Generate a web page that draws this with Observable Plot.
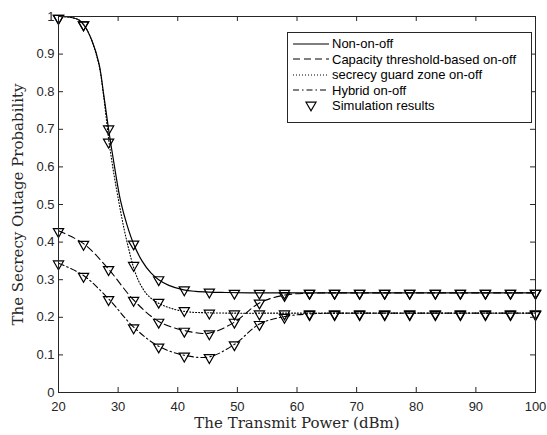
<!DOCTYPE html>
<html>
<head>
<meta charset="utf-8">
<script src="https://cdn.jsdelivr.net/npm/d3@7"></script>
<script src="https://cdn.jsdelivr.net/npm/@observablehq/plot@0.6"></script>
<style>
  html, body { margin: 0; padding: 0; background: #fff; }
  #wrap { position: relative; width: 547px; height: 435px; }
  #legend {
    position: absolute; left: 287px; top: 32px; width: 245px; height: 91px;
    box-sizing: border-box; border: 1px solid #262626; background: #fff;
    font-family: "Liberation Sans", Arial, sans-serif; font-size: 13px; color: #000;
    padding-top: 3px;
  }
  .row { display: flex; align-items: center; height: 15.5px; }
  .row svg { margin-left: 5px; margin-right: 3px; flex: none; }
</style>
</head>
<body>
<div id="wrap"></div>
<script>
// ---- data ----
const xLabel = "The Transmit Power (dBm)";
const yLabel = "The Secrecy Outage Probability";
const xTicks = [20, 30, 40, 50, 60, 70, 80, 90, 100];
const xTickLabels = ["20", "30", "40", "50", "60", "70", "80", "90", "100"];
const yTicks = [0, 0.1, 0.2, 0.3, 0.4, 0.5, 0.6, 0.7, 0.8, 0.9, 1];
const yTickLabels = ["0", "0.1", "0.2", "0.3", "0.4", "0.5", "0.6", "0.7", "0.8", "0.9", "1"];

const seriesNames = ["Non-on-off", "Capacity threshold-based on-off", "secrecy guard zone on-off", "Hybrid on-off"];
const simName = "Simulation results";

// analytical curves
const nonOnOffX = [20, 22, 23.5, 24.5, 25.6, 26.8, 27.6, 28.4, 29.4, 30.4, 31.5, 32.6, 34, 35.5, 36.8, 38.5, 41, 43, 45.3, 48, 52, 60, 100];
const nonOnOffY = [1.0, 0.998, 0.99, 0.972, 0.936, 0.874, 0.79, 0.70, 0.60, 0.51, 0.445, 0.395, 0.35, 0.318, 0.30, 0.285, 0.273, 0.269, 0.267, 0.266, 0.265, 0.265, 0.265];

const guardX = [20, 22, 23.5, 24.5, 25.6, 26.8, 27.6, 28.4, 29.3, 30.2, 31, 31.8, 32.6, 33.4, 34.2, 35, 36, 37.2, 38.5, 40, 42, 45, 50, 55, 100];
const guardY = [1.0, 0.998, 0.99, 0.972, 0.935, 0.87, 0.785, 0.675, 0.58, 0.50, 0.435, 0.38, 0.332, 0.298, 0.275, 0.258, 0.245, 0.234, 0.226, 0.219, 0.214, 0.212, 0.211, 0.211, 0.211];

const gridX = [20, 24.2, 28.4, 32.6, 36.8, 41.1, 45.3, 49.5, 53.7, 57.9, 62.1, 66.3, 70.5, 74.7, 78.9, 83.2, 87.4, 91.6, 95.8, 100];
const capacityY = [0.43, 0.396, 0.328, 0.246, 0.189, 0.165, 0.158, 0.187, 0.238, 0.259, 0.264, 0.265, 0.265, 0.265, 0.265, 0.265, 0.265, 0.265, 0.265, 0.265];
const hybridY = [0.344, 0.311, 0.249, 0.174, 0.123, 0.099, 0.095, 0.128, 0.182, 0.202, 0.209, 0.211, 0.211, 0.211, 0.211, 0.211, 0.211, 0.211, 0.211, 0.211];

// simulation points
const simX = [20, 24.2, 28.4, 32.6, 36.8, 41.1, 45.3, 49.5, 53.7, 57.9, 62.1, 66.3, 70.5, 74.7, 78.9, 83.2, 87.4, 91.6, 95.8, 100];
const simNonOnOff = [0.995, 0.978, 0.701, 0.395, 0.300, 0.273, 0.267, 0.264, 0.264, 0.264, 0.264, 0.264, 0.264, 0.264, 0.264, 0.264, 0.264, 0.264, 0.264, 0.264];
const simCapacity = [0.428, 0.394, 0.327, 0.245, 0.187, 0.163, 0.156, 0.187, 0.238, 0.258, 0.264, 0.264, 0.264, 0.264, 0.264, 0.264, 0.264, 0.264, 0.264, 0.264];
const simGuard = [0.995, 0.978, 0.666, 0.338, 0.240, 0.218, 0.211, 0.209, 0.209, 0.209, 0.209, 0.209, 0.209, 0.209, 0.209, 0.209, 0.209, 0.209, 0.209, 0.209];
const simHybrid = [0.342, 0.309, 0.247, 0.172, 0.121, 0.097, 0.093, 0.127, 0.181, 0.200, 0.207, 0.207, 0.207, 0.207, 0.207, 0.207, 0.207, 0.207, 0.207, 0.207];

// ---- build ----
const W = 547, H = 435;
const mL = 58, mR = 12, mT = 16, mB = 43;
const plotW = W - mL - mR, plotH = H - mT - mB;
const tick = 5;
const axisColor = "#262626";

const styles = [
  {strokeDasharray: null, strokeWidth: 1.2},
  {strokeDasharray: "7,4", strokeWidth: 1.1},
  {strokeDasharray: "1,2", strokeWidth: 1.1},
  {strokeDasharray: "6,3,1.5,3", strokeWidth: 1.1}
];

const toPts = (xs, ys) => xs.map((x, i) => ({x, y: ys[i]}));
const lineSets = [
  toPts(nonOnOffX, nonOnOffY),
  toPts(gridX, capacityY),
  toPts(guardX, guardY),
  toPts(gridX, hybridY)
];
const simSets = [simNonOnOff, simCapacity, simGuard, simHybrid].map(ys => toPts(simX, ys));

const triDown = {
  draw(context, size) {
    const y = Math.sqrt(size / (3 * Math.sqrt(3)));
    const s = Math.sqrt(3) * y;
    context.moveTo(0, 2 * y);
    context.lineTo(s, -y);
    context.lineTo(-s, -y);
    context.closePath();
  }
};

const marks = [];
lineSets.forEach((pts, i) => {
  marks.push(Plot.line(pts, {x: "x", y: "y", stroke: "black", curve: "catmull-rom",
    strokeWidth: styles[i].strokeWidth, strokeDasharray: styles[i].strokeDasharray}));
});
simSets.forEach(pts => {
  marks.push(Plot.dot(pts, {x: "x", y: "y", symbol: triDown, r: 3.8, stroke: "black", fill: "none", strokeWidth: 1.2}));
});
// box & inward ticks (MATLAB style)
marks.push(Plot.frame({stroke: axisColor, strokeWidth: 1}));
marks.push(Plot.tickX(xTicks, {x: d => d, stroke: axisColor, insetTop: plotH - tick}));
marks.push(Plot.tickX(xTicks, {x: d => d, stroke: axisColor, insetBottom: plotH - tick}));
marks.push(Plot.tickY(yTicks, {y: d => d, stroke: axisColor, insetRight: plotW - tick}));
marks.push(Plot.tickY(yTicks, {y: d => d, stroke: axisColor, insetLeft: plotW - tick}));
marks.push(Plot.axisX(xTicks, {tickSize: 0, tickPadding: 9, fontSize: 13, fill: axisColor,
  tickFormat: d => xTickLabels[xTicks.indexOf(d)], label: null}));
marks.push(Plot.axisY(yTicks, {tickSize: 0, tickPadding: 4, fontSize: 13, fill: axisColor,
  tickFormat: d => yTickLabels[yTicks.indexOf(d)], label: null}));
marks.push(Plot.text([xLabel], {text: d => d, frameAnchor: "bottom", dy: 35, fontSize: 15,
  fontFamily: "DejaVu Serif", fill: axisColor}));
marks.push(Plot.text([yLabel], {text: d => d, frameAnchor: "left", textAnchor: "middle", dx: -40, rotate: -90, fontSize: 15,
  fontFamily: "DejaVu Serif", fill: axisColor}));

const chart = Plot.plot({
  width: W, height: H,
  marginLeft: mL, marginRight: mR, marginTop: mT, marginBottom: mB,
  style: {fontFamily: "'Liberation Sans', Arial, sans-serif", fontSize: "13px", background: "#fff", overflow: "visible"},
  x: {domain: [20, 100]},
  y: {domain: [0, 1]},
  marks
});
const wrap = document.getElementById("wrap");
wrap.appendChild(chart);

// legend (HTML overlay)
const legend = document.createElement("div");
legend.id = "legend";
const ns = "http://www.w3.org/2000/svg";
seriesNames.forEach((name, i) => {
  const row = document.createElement("div");
  row.className = "row";
  const svg = document.createElementNS(ns, "svg");
  svg.setAttribute("width", 36); svg.setAttribute("height", 10);
  const ln = document.createElementNS(ns, "line");
  ln.setAttribute("x1", 0); ln.setAttribute("x2", 36); ln.setAttribute("y1", 5); ln.setAttribute("y2", 5);
  ln.setAttribute("stroke", "black"); ln.setAttribute("stroke-width", styles[i].strokeWidth);
  if (styles[i].strokeDasharray) ln.setAttribute("stroke-dasharray", styles[i].strokeDasharray);
  svg.appendChild(ln);
  row.appendChild(svg);
  const t = document.createElement("span"); t.textContent = name;
  row.appendChild(t);
  legend.appendChild(row);
});
{
  const row = document.createElement("div");
  row.className = "row";
  const svg = document.createElementNS(ns, "svg");
  svg.setAttribute("width", 36); svg.setAttribute("height", 12);
  const p = document.createElementNS(ns, "path");
  p.setAttribute("d", "M13,2.2L23,2.2L18,10.8Z");
  p.setAttribute("fill", "none"); p.setAttribute("stroke", "black"); p.setAttribute("stroke-width", 1.2);
  svg.appendChild(p);
  row.appendChild(svg);
  const t = document.createElement("span"); t.textContent = simName;
  row.appendChild(t);
  legend.appendChild(row);
}
wrap.appendChild(legend);
</script>
</body>
</html>
